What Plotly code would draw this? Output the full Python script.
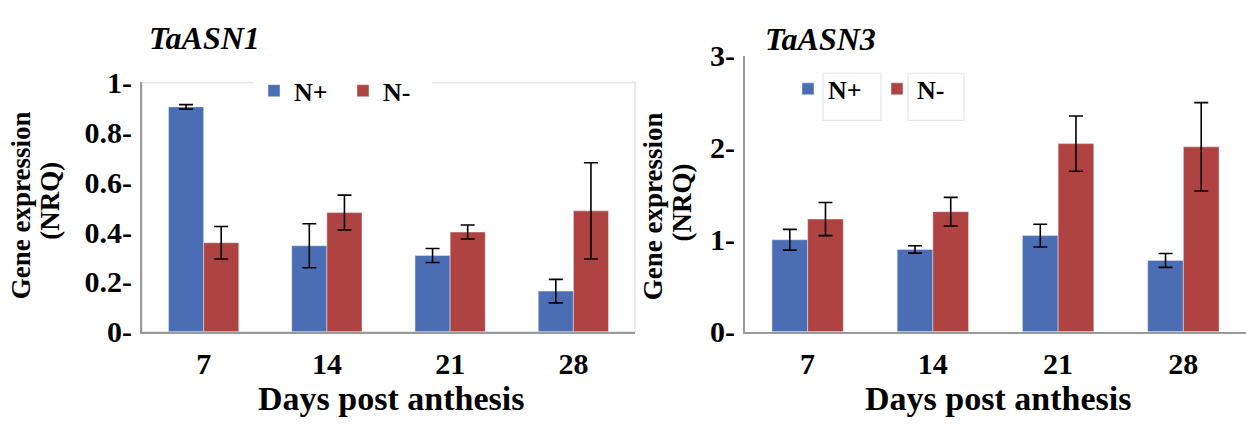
import plotly.graph_objects as go

days = ["7", "14", "21", "28"]

asn1_np = [0.902, 0.345, 0.306, 0.163]
asn1_np_err = [0.009, 0.088, 0.028, 0.047]
asn1_nm = [0.357, 0.478, 0.400, 0.485]
asn1_nm_err = [0.065, 0.070, 0.028, 0.193]

asn3_np = [1.0, 0.895, 1.045, 0.775]
asn3_np_err = [0.113, 0.040, 0.124, 0.075]
asn3_nm = [1.225, 1.305, 2.045, 2.01]
asn3_nm_err = [0.18, 0.155, 0.30, 0.48]

y1_ticks = [0, 0.2, 0.4, 0.6, 0.8, 1]
y1_text = ["0-", "0.2-", "0.4-", "0.6-", "0.8-", "1-"]
y3_ticks = [0, 1, 2, 3]
y3_text = ["0-", "1-", "2-", "3-"]

BLUE = "#4A6DB3"
RED = "#AF4341"
FONT = "Liberation Serif"
W, H = 1246, 430

def px(x):
    return x / W

def py(y):
    return 1 - y / H

err_style = dict(type="data", color="black", thickness=1.6, width=7)

fig = go.Figure()
fig.add_trace(go.Bar(x=days, y=asn1_np, name="N+", marker_color=BLUE,
                     error_y=dict(array=asn1_np_err, **err_style),
                     xaxis="x", yaxis="y", legend="legend"))
fig.add_trace(go.Bar(x=days, y=asn1_nm, name="N-", marker_color=RED,
                     error_y=dict(array=asn1_nm_err, **err_style),
                     xaxis="x", yaxis="y", legend="legend"))
fig.add_trace(go.Bar(x=days, y=asn3_np, name="N+", marker_color=BLUE,
                     error_y=dict(array=asn3_np_err, **err_style),
                     xaxis="x2", yaxis="y2", legend="legend2"))
fig.add_trace(go.Bar(x=days, y=asn3_nm, name="N-", marker_color=RED,
                     error_y=dict(array=asn3_nm_err, **err_style),
                     xaxis="x2", yaxis="y2", legend="legend2"))

tickfont = dict(family=FONT, size=30, color="black", weight="bold")
axline = dict(showline=True, linecolor="#9a9a9a", linewidth=2, showgrid=False,
              zeroline=False)

xd1 = [px(142), px(635)]
xd2 = [px(745), 1.0]
yd1 = [py(342), py(72)]
yd2 = [py(342), py(43)]

legfont = dict(family=FONT, size=26, color="black", weight="bold")

fig.update_layout(
    width=W, height=H,
    margin=dict(l=0, r=0, t=0, b=0),
    paper_bgcolor="white", plot_bgcolor="rgba(0,0,0,0)",
    barmode="group", bargap=0.43, bargroupgap=0,
    xaxis=dict(domain=xd1, anchor="y", type="category", tickfont=tickfont,
               ticks="", ticklabelstandoff=4, **axline),
    yaxis=dict(domain=yd1, anchor="x", range=[0, 1], tickvals=y1_ticks,
               ticktext=y1_text, tickfont=tickfont, ticks="",
               ticklabelstandoff=2, **axline),
    xaxis2=dict(domain=xd2, anchor="y2", type="category", tickfont=tickfont,
                ticks="", ticklabelstandoff=4, **axline),
    yaxis2=dict(domain=yd2, anchor="x2", range=[0, 3], tickvals=y3_ticks,
                ticktext=y3_text, tickfont=tickfont, ticks="",
                ticklabelstandoff=2, **axline),
    legend=dict(orientation="h", x=px(254), y=py(81), xanchor="left",
                yanchor="middle", bgcolor="white", entrywidth=44, font=legfont),
    legend2=dict(orientation="h", x=px(788), y=py(79), xanchor="left",
                 yanchor="middle", bgcolor="rgba(0,0,0,0)", entrywidth=44,
                 font=legfont),
)

# faint frame of left panel
fig.add_shape(type="rect", xref="paper", yref="paper",
              x0=xd1[0], x1=xd1[1], y0=yd1[0], y1=yd1[1],
              line=dict(color="#e4e4e4", width=1.5), layer="below")
# faint boxes around legend texts in the right panel
for x0, x1 in [(823, 881), (908, 964)]:
    fig.add_shape(type="rect", xref="paper", yref="paper",
                  x0=px(x0), x1=px(x1), y0=py(113), y1=py(62),
                  line=dict(color="#e6e6e6", width=1.2), layer="below")

titlefont = dict(family=FONT, size=32, color="black", weight="bold", style="italic")
axtitlefont = dict(family=FONT, size=34, color="black", weight="bold")
ytitlefont = dict(family=FONT, size=27, color="black", weight="bold")

annots = [
    dict(text="TaASN1", x=px(147), y=py(24), xanchor="left", yanchor="middle",
         font=titlefont),
    dict(text="TaASN3", x=px(763), y=py(25), xanchor="left", yanchor="middle",
         font=titlefont),
    dict(text="Days post anthesis", x=px(391), y=py(414),
         xanchor="center", yanchor="middle", font=axtitlefont),
    dict(text="Days post anthesis", x=px(998), y=py(414),
         xanchor="center", yanchor="middle", font=axtitlefont),
    dict(text="Gene expression", x=px(21), y=py(205), textangle=-90,
         xanchor="center", yanchor="middle", font=ytitlefont),
    dict(text="(NRQ)", x=px(50), y=py(200), textangle=-90,
         xanchor="center", yanchor="middle", font=ytitlefont),
    dict(text="Gene expression", x=px(653), y=py(206), textangle=-90,
         xanchor="center", yanchor="middle", font=ytitlefont),
    dict(text="(NRQ)", x=px(682), y=py(202), textangle=-90,
         xanchor="center", yanchor="middle", font=ytitlefont),
]
for a in annots:
    fig.add_annotation(xref="paper", yref="paper", showarrow=False, **a)

fig.write_html("out.html")
